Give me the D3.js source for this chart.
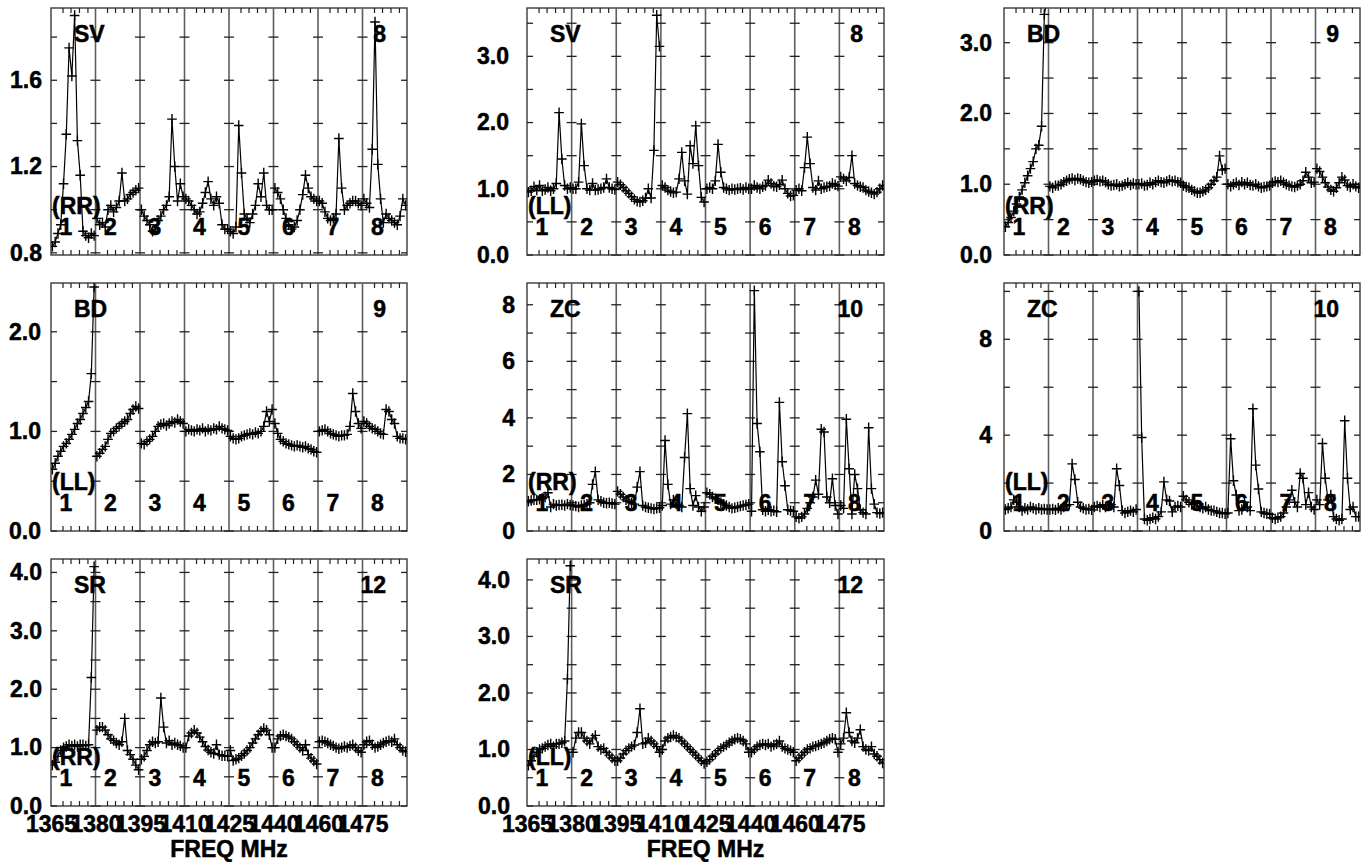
<!DOCTYPE html>
<html>
<head>
<meta charset="utf-8">
<script src="https://cdn.jsdelivr.net/npm/d3@7"></script>
<style>
body { margin: 0; background: #fff; }
text { font-family: "Liberation Sans", Arial, sans-serif; font-weight: bold; stroke: #000; stroke-width: 0.5px; }
</style>
</head>
<body>
<svg id="chart" width="1372" height="862"></svg>
<script>
// Panel labels
let sources = ["SV", "SV", "BD", "BD", "ZC", "ZC", "SR", "SR"];
let antennas = ["8", "8", "9", "9", "10", "10", "12", "12"];
let pols = ["(RR)", "(LL)", "(RR)", "(LL)", "(RR)", "(LL)", "(RR)", "(LL)"];
let ifNames = ["1", "2", "3", "4", "5", "6", "7", "8"];
let freqLabels = ["1365", "1380", "1395", "1410", "1425", "1440", "1460", "1475"];

// Y axes
let yMin = [0.79, 0, 0, 0, 0, 0, 0, 0];
let yMax = [1.935, 3.73, 3.49, 2.49, 8.77, 10.35, 4.23, 4.37];
let yMajor = [[0.8, 1.2, 1.6], [0, 1, 2, 3], [0, 1, 2, 3], [0, 1, 2], [0, 2, 4, 6, 8], [0, 4, 8], [0, 1, 2, 3, 4], [0, 1, 2, 3, 4]];
let yMinorStep = [0.2, 0.5, 0.5, 0.5, 1, 2, 0.5, 0.5];
let yFormat = [".1f", ".1f", ".1f", ".1f", "d", "d", ".1f", ".1f"];

// Amplitude per IF (16 channels each)
let svRR = [
  [0.83,0.85,0.89,0.93,1.12,1.35,1.75,1.62,1.90,1.32,1.16,0.90,0.88,0.87,0.89,0.88],
  [0.96,0.93,0.94,0.92,1.00,1.02,0.99,1.01,1.04,1.17,1.04,1.05,1.07,1.08,1.09,1.10],
  [1.00,0.97,0.95,0.93,0.90,0.91,0.95,0.97,1.00,1.02,1.06,1.42,1.20,1.04,1.12,1.06],
  [1.05,1.04,1.02,1.00,0.98,0.99,1.03,1.08,1.13,1.05,1.02,1.06,1.03,0.93,0.91,0.91],
  [0.90,0.89,0.92,1.39,1.17,0.98,0.96,0.94,0.98,1.02,1.12,1.06,1.17,1.02,1.00,1.00],
  [1.10,1.08,1.05,1.00,0.96,0.93,0.91,0.92,0.95,1.00,1.07,1.16,1.10,1.06,1.05,1.04],
  [1.04,1.03,0.99,0.96,0.95,0.96,0.98,1.33,1.10,1.00,1.02,1.03,1.04,1.04,1.03,1.02],
  [1.05,1.03,1.01,1.28,1.87,1.21,1.05,0.94,0.98,0.96,0.95,0.94,0.93,0.97,1.05,1.02]
];
let svLL = [
  [0.95,0.97,1.03,0.98,1.05,0.97,0.99,1.02,0.97,1.00,1.08,2.15,1.45,1.05,1.00,1.02],
  [1.00,1.00,1.10,1.98,1.35,1.00,0.98,1.08,0.98,0.99,1.00,1.02,1.15,1.02,1.00,0.99],
  [1.10,1.06,1.02,0.97,0.93,0.88,0.84,0.81,0.80,0.82,0.86,1.00,0.86,1.58,3.62,3.15],
  [1.05,1.02,0.98,0.96,0.94,0.95,1.15,1.55,1.12,0.92,1.65,1.38,1.95,1.35,0.87,0.80],
  [1.00,1.02,1.00,1.12,1.67,1.25,1.02,1.00,0.98,1.00,0.99,1.00,1.01,0.99,1.02,1.00],
  [1.00,1.05,1.02,1.00,1.03,1.05,1.13,1.08,1.04,1.03,1.06,1.13,1.00,0.93,0.89,0.90],
  [0.98,1.00,0.97,1.32,1.78,1.38,1.02,0.98,1.12,1.00,1.02,1.03,1.04,1.08,1.06,1.04],
  [1.18,1.15,1.12,1.17,1.50,1.08,1.05,1.03,1.02,0.98,0.96,0.94,0.92,0.95,1.00,1.05]
];
let bdRR = [
  [0.40,0.46,0.53,0.62,0.72,0.82,0.92,1.02,1.12,1.22,1.32,1.50,1.55,1.82,3.40,3.60],
  [0.97,0.95,0.98,0.98,1.00,1.03,1.05,1.07,1.08,1.06,1.08,1.07,1.05,1.03,1.02,1.03],
  [1.05,1.06,1.04,1.05,1.03,1.00,0.98,0.99,1.00,0.97,0.98,1.00,1.02,0.99,1.01,1.00],
  [1.00,1.01,0.98,0.99,1.02,1.00,1.03,1.05,1.03,1.02,1.04,1.06,1.04,1.05,1.03,1.02],
  [0.98,0.96,0.95,0.92,0.90,0.88,0.88,0.90,0.92,0.95,1.00,1.05,1.10,1.40,1.20,1.22],
  [1.00,0.97,1.00,1.02,0.99,1.03,1.00,1.02,0.99,0.98,1.00,0.97,0.95,0.96,0.97,0.98],
  [1.02,1.04,1.03,1.05,1.02,1.00,0.98,0.97,0.96,0.98,1.00,1.05,1.17,1.10,1.02,1.03],
  [1.22,1.18,1.10,1.02,0.96,0.92,0.90,0.95,1.02,1.10,1.06,0.98,0.96,1.00,0.97,0.95]
];
let bdLL = [
  [0.62,0.68,0.75,0.80,0.85,0.88,0.92,0.97,1.02,1.08,1.12,1.18,1.24,1.30,1.58,2.45],
  [0.75,0.78,0.82,0.85,0.92,0.98,1.00,1.03,1.05,1.08,1.10,1.12,1.18,1.22,1.25,1.23],
  [0.88,0.87,0.90,0.92,0.95,1.00,1.05,1.07,1.08,1.06,1.08,1.10,1.09,1.12,1.10,1.08],
  [1.00,1.02,1.01,1.00,1.02,1.01,1.03,1.00,1.02,1.01,1.03,1.02,1.05,1.03,1.02,1.01],
  [0.95,0.93,0.92,0.93,0.95,0.96,0.97,0.98,0.97,0.99,0.98,1.00,1.05,1.20,1.10,1.22],
  [1.08,0.98,0.92,0.90,0.88,0.87,0.86,0.85,0.86,0.85,0.84,0.85,0.83,0.82,0.80,0.79],
  [1.00,1.01,1.02,1.00,0.98,0.97,0.96,0.95,0.96,0.96,0.97,1.05,1.38,1.20,1.08,1.03],
  [1.10,1.08,1.05,1.03,1.02,1.00,0.98,0.97,1.22,1.20,1.12,1.08,0.95,0.93,0.93,0.92]
];
let zcRR = [
  [1.05,1.08,1.10,1.10,1.12,1.15,1.20,1.35,0.85,0.95,0.90,0.92,0.93,0.90,0.95,0.92],
  [0.90,0.88,0.85,0.90,0.92,0.95,1.00,1.65,2.10,1.10,1.05,1.00,0.98,1.00,0.97,0.95],
  [1.40,1.30,1.20,1.10,1.05,1.00,0.95,1.55,2.10,0.90,0.85,0.82,0.80,0.78,0.80,0.82],
  [0.90,3.20,1.65,0.95,1.10,0.95,0.90,0.85,2.60,4.15,1.50,0.90,1.25,0.85,0.70,0.85],
  [1.35,1.30,1.20,1.15,1.10,1.00,0.95,0.90,0.85,0.80,0.82,0.85,0.88,0.90,0.92,0.95],
  [0.70,8.50,3.80,2.80,0.75,0.70,0.75,0.70,0.72,0.68,4.55,2.45,1.60,0.75,0.72,0.70],
  [0.50,0.45,0.50,0.60,0.80,1.00,1.20,1.80,1.30,3.60,3.50,1.20,1.00,1.85,0.90,0.60],
  [0.90,0.80,3.95,2.20,0.60,2.00,1.50,0.75,0.65,0.60,3.65,1.50,0.95,0.65,0.62,0.65]
];
let zcLL = [
  [0.90,0.95,1.00,1.30,1.20,1.00,0.85,0.95,0.90,1.00,0.95,0.90,0.95,0.90,0.92,0.90],
  [0.90,0.92,0.88,0.95,0.90,1.00,1.05,1.10,2.80,2.15,1.20,1.00,0.95,0.90,0.92,0.88],
  [1.00,1.05,1.00,1.10,1.00,1.05,1.10,1.00,2.60,1.90,0.85,0.75,0.80,0.85,0.80,0.90],
  [10.0,3.90,0.50,0.45,0.50,0.55,0.50,0.60,0.80,2.05,1.30,1.25,0.80,1.00,1.05,1.00],
  [1.45,1.30,1.20,1.10,1.15,1.05,1.00,0.95,1.00,0.90,0.85,0.85,0.80,0.75,0.75,0.72],
  [0.75,3.85,2.10,1.50,0.85,0.90,1.20,1.00,0.85,5.10,2.75,1.75,0.80,0.75,0.72,0.70],
  [0.55,0.50,0.55,0.60,0.75,1.00,1.30,1.70,1.20,1.00,2.40,2.20,1.10,1.60,1.00,0.90],
  [1.30,1.10,3.65,2.20,1.30,1.50,0.60,0.50,0.45,0.50,4.60,2.20,0.90,1.00,0.60,0.60]
];
let srRR = [
  [0.70,0.75,0.85,0.95,1.00,1.02,1.05,1.03,1.05,1.02,1.05,1.05,1.03,1.05,2.20,4.10],
  [1.30,1.35,1.35,1.30,1.22,1.15,1.12,1.08,1.05,1.10,1.50,0.95,0.88,0.80,0.70,0.62],
  [0.80,0.85,0.95,1.05,1.10,1.08,1.10,1.85,1.35,1.08,1.12,1.05,1.08,1.05,1.03,1.00],
  [1.00,1.20,1.25,1.30,1.25,1.18,1.10,1.02,0.96,0.92,0.90,1.05,0.88,0.86,0.86,0.85],
  [0.95,0.78,0.80,0.82,0.86,0.90,0.95,1.00,1.08,1.15,1.22,1.28,1.33,1.30,1.22,1.00],
  [1.00,1.15,1.20,1.22,1.20,1.18,1.15,1.10,1.05,1.00,0.95,1.05,0.88,0.82,0.77,0.72],
  [1.10,1.12,1.10,1.08,1.05,1.03,1.00,0.98,1.00,1.02,1.00,1.03,1.05,1.00,0.95,0.92],
  [1.05,1.10,1.12,1.05,1.00,1.02,1.05,1.08,1.10,1.12,1.10,1.15,1.05,1.00,0.95,0.93]
];
let srLL = [
  [0.72,0.80,0.88,0.95,1.00,1.02,1.05,1.08,1.10,1.05,1.10,1.10,1.12,1.15,2.25,4.25],
  [0.95,1.20,1.30,1.30,1.20,1.15,1.10,1.20,1.25,1.05,1.00,1.02,0.95,0.90,0.85,0.80],
  [0.80,0.85,0.92,0.98,1.02,1.05,1.08,1.30,1.72,1.10,1.12,1.20,1.15,1.10,1.05,0.95],
  [1.00,1.15,1.20,1.22,1.25,1.22,1.20,1.15,1.10,1.05,1.00,0.95,0.90,0.85,0.80,0.75],
  [0.78,0.82,0.88,0.92,0.98,1.02,1.05,1.08,1.12,1.15,1.18,1.20,1.18,1.15,1.10,0.95],
  [0.95,1.00,1.05,1.08,1.10,1.08,1.10,1.05,1.08,1.10,1.15,1.05,1.02,1.00,0.98,0.95],
  [0.80,0.85,0.90,0.95,1.00,1.02,1.05,1.06,1.08,1.10,1.12,1.15,1.18,1.20,1.18,0.95],
  [1.10,1.20,1.65,1.30,1.15,1.12,1.20,1.35,1.05,1.00,0.98,1.05,0.92,0.88,0.82,0.76]
];
let spectra = [svRR, svLL, bdRR, bdLL, zcRR, zcLL, srRR, srLL];

// Panel frames on the page
let boxes = [
  {x0: 51, x1: 407, y0: 8, y1: 255, lab: 9},
  {x0: 527, x1: 884, y0: 8, y1: 255, lab: 18},
  {x0: 1004, x1: 1360, y0: 8, y1: 255, lab: 12},
  {x0: 51, x1: 407, y0: 283, y1: 531, lab: 10},
  {x0: 527, x1: 884, y0: 283, y1: 531, lab: 12},
  {x0: 1004, x1: 1360, y0: 283, y1: 531, lab: 12},
  {x0: 51, x1: 407, y0: 559, y1: 806, lab: 9},
  {x0: 527, x1: 884, y0: 559, y1: 806, lab: 17}
];

let svg = d3.select("#chart");
let plus = "M-4.8,0H4.8M0,-5.2V5.2";
let xFrac = [0.27, 0.45, 0.64, 0.83];
let gridColor = "#5e5e5e";

spectra.forEach(function(spec, p) {
  let b = boxes[p];
  let x = d3.scaleLinear().domain([0, ifNames.length]).range([b.x0, b.x1]);
  let y = d3.scaleLinear().domain([yMin[p], yMax[p]]).range([b.y1, b.y0]);
  let g = svg.append("g");

  g.append("clipPath").attr("id", "clip" + p)
    .append("rect").attr("x", b.x0).attr("y", b.y0)
    .attr("width", b.x1 - b.x0).attr("height", b.y1 - b.y0);

  // Frame and IF separators
  g.append("rect").attr("x", b.x0).attr("y", b.y0)
    .attr("width", b.x1 - b.x0).attr("height", b.y1 - b.y0)
    .attr("fill", "none").attr("stroke", "#3a3a3a").attr("stroke-width", 1.4);

  let seps = d3.range(1, ifNames.length);
  g.selectAll(".sep").data(seps).join("line")
    .attr("x1", d => x(d)).attr("x2", d => x(d))
    .attr("y1", b.y0).attr("y2", b.y1)
    .attr("stroke", gridColor).attr("stroke-width", 1.6);

  // Y ticks (major + minor) on frame edges and IF lines
  let step = yMinorStep[p];
  let start = Math.ceil(yMin[p] / step - 1e-6) * step;
  let yt = d3.range(0, Math.floor((yMax[p] - start) / step + 1e-6) + 1).map(k => start + k * step);
  yt.forEach(function(t) {
    let yy = y(t);
    g.append("line").attr("x1", b.x0).attr("x2", b.x0 + 6).attr("y1", yy).attr("y2", yy)
      .attr("stroke", "#222").attr("stroke-width", 1.3);
    g.append("line").attr("x1", b.x1 - 6).attr("x2", b.x1).attr("y1", yy).attr("y2", yy)
      .attr("stroke", "#222").attr("stroke-width", 1.3);
    seps.forEach(function(s) {
      g.append("line").attr("x1", x(s) - 5).attr("x2", x(s) + 5).attr("y1", yy).attr("y2", yy)
        .attr("stroke", "#222").attr("stroke-width", 1.3);
    });
  });

  // X ticks inside each IF
  d3.range(ifNames.length).forEach(function(i) {
    xFrac.forEach(function(f) {
      let xx = x(i + f);
      g.append("line").attr("x1", xx).attr("x2", xx).attr("y1", b.y1).attr("y2", b.y1 - 5)
        .attr("stroke", "#222").attr("stroke-width", 1.2);
      g.append("line").attr("x1", xx).attr("x2", xx).attr("y1", b.y0).attr("y2", b.y0 + 5)
        .attr("stroke", "#222").attr("stroke-width", 1.2);
    });
  });

  // Spectra
  let data = g.append("g").attr("clip-path", "url(#clip" + p + ")");
  spec.forEach(function(vals, i) {
    let n = vals.length;
    let pts = vals.map((v, c) => [x(i + (c + 0.5) / n), y(v)]);
    data.append("path").attr("d", d3.line()(pts))
      .attr("fill", "none").attr("stroke", "#000").attr("stroke-width", 1.2);
    data.selectAll(null).data(pts).join("path")
      .attr("d", plus)
      .attr("transform", d => `translate(${d[0]},${d[1]})`)
      .attr("fill", "none").attr("stroke", "#000").attr("stroke-width", 1.4);
  });

  // Y axis labels
  let yAxis = d3.axisLeft(y).tickValues(yMajor[p]).tickFormat(d3.format(yFormat[p]))
    .tickSize(0).tickPadding(0);
  let ya = g.append("g").attr("transform", `translate(${b.x0 - b.lab},0)`).call(yAxis);
  ya.select(".domain").remove();
  ya.selectAll("text").attr("font-family", null).style("font-size", "23px").attr("fill", "#000");

  // Panel text
  g.append("text").attr("x", b.x0 + 23).attr("y", b.y0 + 34)
    .style("font-size", "23px").text(sources[p]);
  g.append("text").attr("x", b.x1 - 21).attr("y", b.y0 + 34).attr("text-anchor", "end")
    .style("font-size", "23px").text(antennas[p]);
  g.append("text").attr("x", b.x0 + 1).attr("y", b.y1 - 41)
    .style("font-size", "23px").text(pols[p]);
  g.selectAll(".ifn").data(ifNames).join("text")
    .attr("x", (d, i) => x(i) + 15).attr("y", b.y1 - 20)
    .attr("text-anchor", "middle").style("font-size", "23px").text(d => d);

  // Frequency axis on bottom row
  if (p >= 6) {
    let xAxis = d3.axisBottom(x).tickValues(d3.range(freqLabels.length))
      .tickFormat(i => freqLabels[i]).tickSize(0).tickPadding(10);
    let xa = g.append("g").attr("transform", `translate(0,${b.y1})`).call(xAxis);
    xa.select(".domain").remove();
    xa.selectAll("text").attr("font-family", null).style("font-size", "23px").attr("fill", "#000");
    g.append("text").attr("x", (b.x0 + b.x1) / 2).attr("y", b.y1 + 51)
      .attr("text-anchor", "middle").style("font-size", "23px").text("FREQ MHz");
  }
});
</script>
</body>
</html>
